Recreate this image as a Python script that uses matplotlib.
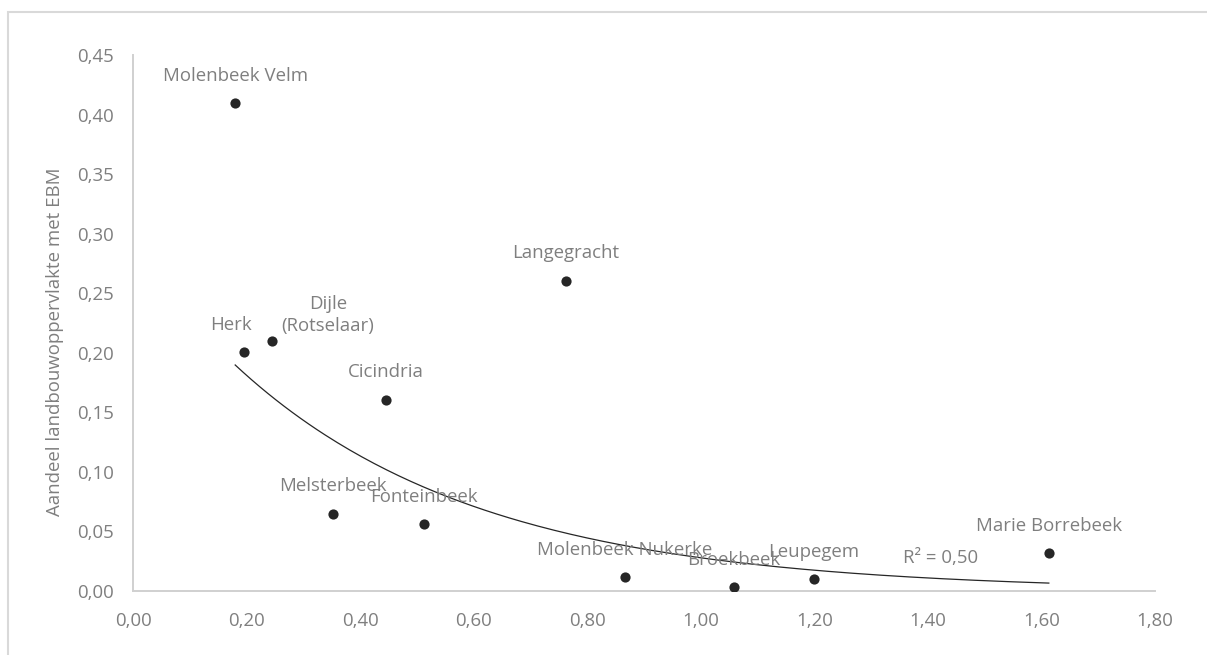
import numpy as np
import matplotlib
matplotlib.use('Agg')
import matplotlib.pyplot as plt
from matplotlib.patches import Rectangle

plt.rcParams['font.family'] = ['Open Sans', 'DejaVu Sans']

# waterlopen: x-waarde en aandeel landbouwoppervlakte met EBM
namen = ['Molenbeek Velm', 'Herk', 'Dijle\n(Rotselaar)', 'Cicindria', 'Langegracht',
         'Melsterbeek', 'Fonteinbeek', 'Molenbeek Nukerke', 'Broekbeek', 'Leupegem',
         'Marie Borrebeek']
x_waarden = [0.180, 0.195, 0.245, 0.445, 0.762, 0.352, 0.512, 0.866, 1.058, 1.199, 1.613]
aandeel = [0.410, 0.201, 0.210, 0.1605, 0.2605, 0.0647, 0.056, 0.0118, 0.0034, 0.010, 0.032]

# verschuiving van de labels (pixels) t.o.v. het punt
label_dx = [0, -13, 56, 0, 0, 0, 0, 0, 0, 0, 0]
label_dy = [27, 27, 26, 28, 28, 28, 27, 27, 27, 27, 27]

xticks = np.arange(0, 1.81, 0.2)
yticks = np.arange(0, 0.451, 0.05)

grijs = '#7f7f7f'
donker = '#262626'
fs = 13.4
W, H = 1207, 655

fig = plt.figure(figsize=(W / 100, H / 100), dpi=100, facecolor='white')
ax = fig.add_axes([133 / W, (H - 591) / H, (1155 - 133) / W, (591 - 55) / H])

ax.scatter(x_waarden, aandeel, s=54, color=donker, zorder=3, linewidths=0)

# exponentiele trendlijn zoals in Excel: ln(y) lineair in x
x = np.array(x_waarden)
y = np.array(aandeel)
b, ln_a = np.polyfit(x, np.log(y), 1)
xs = np.linspace(x.min(), x.max(), 200)
ax.plot(xs, np.exp(ln_a) * np.exp(b * xs), color=donker, lw=0.9, zorder=2)

for naam, xi, yi, dx, dy in zip(namen, x_waarden, aandeel, label_dx, label_dy):
    ax.annotate(naam, xy=(xi, yi), xytext=(dx, dy), textcoords='offset pixels',
                ha='center', va='center', fontsize=fs, color=grijs, linespacing=1.3)

ax.text(1.356, 0.0277, 'R² = 0,50', ha='left', va='center', fontsize=fs, color=grijs)

ax.set_xlim(0, 1.8)
ax.set_ylim(0, 0.45)
ax.set_xticks(xticks)
ax.set_yticks(yticks)
ax.set_xticklabels([f'{v:.2f}'.replace('.', ',') for v in xticks])
ax.set_yticklabels([f'{v:.2f}'.replace('.', ',') for v in yticks])
ax.tick_params(length=0, labelsize=fs, colors=grijs, pad=14)
ax.tick_params(axis='x', pad=15)

for kant in ['top', 'right']:
    ax.spines[kant].set_visible(False)
for kant in ['left', 'bottom']:
    ax.spines[kant].set_color('#d0d0d0')
    ax.spines[kant].set_linewidth(1.4)

fig.text(55 / W, (H - 342) / H, 'Aandeel landbouwoppervlakte met EBM', rotation=90,
         ha='center', va='center', fontsize=fs, color=grijs)

# kader rond de grafiek
fig.add_artist(Rectangle((8 / W, -0.1), 1.2, (H - 12) / H + 0.1, transform=fig.transFigure,
                         fill=False, edgecolor='#d9d9d9', lw=1.5))

fig.savefig('out.png', dpi=100, facecolor='white')
